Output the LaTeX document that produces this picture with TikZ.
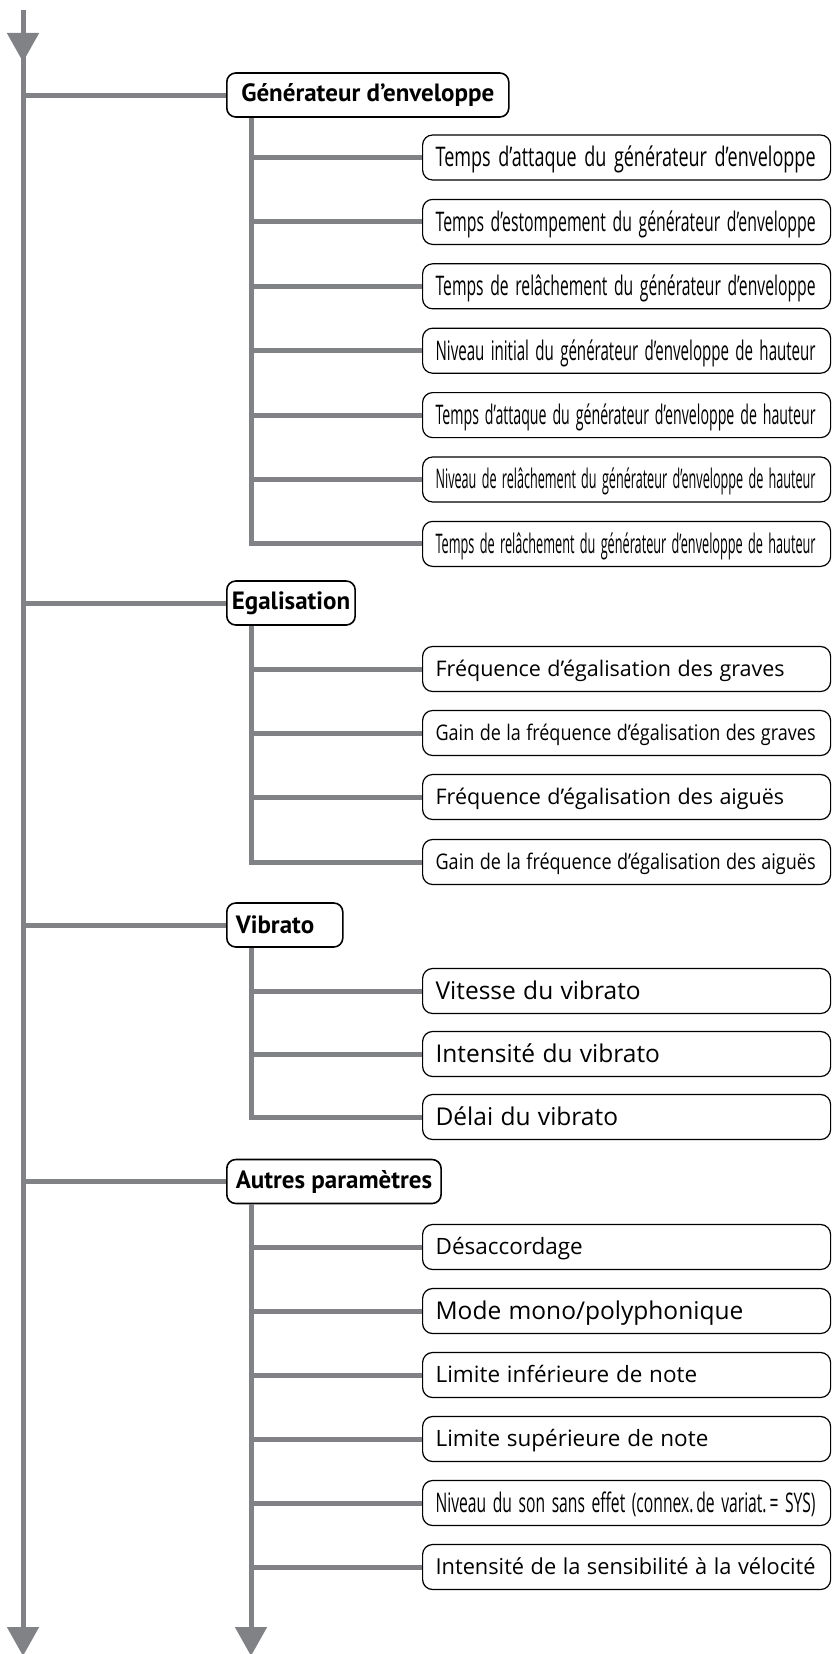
\documentclass[tikz,border=0pt]{standalone}
\usepackage{fontspec}
\setmainfont{PT Sans}
\newfontfamily\leaffont{Open Sans}
\usetikzlibrary{arrows.meta,calc}
\definecolor{linkgray}{HTML}{808285}

% Leaf labels: set at a given size, squeezed horizontally when too long
% for the box
\newsavebox\lblbox
\newlength\lblmax \setlength\lblmax{380pt}
\newlength\lblw
\newcommand\clbl[2][22.5]{%
  \sbox\lblbox{\leaffont\fontsize{#1}{#1}\selectfont\spaceskip=0.3em\relax\vphantom{Ég}#2}%
  \setlength\lblw{\wd\lblbox}%
  \ifdim\lblw>\lblmax
    \pgfmathsetmacro\lblsx{\lblmax/\lblw}%
    \scalebox{\lblsx}[1]{\usebox\lblbox}%
  \else\usebox\lblbox\fi}
% tall, strongly condensed labels
\newcommand\tlbl[1]{\clbl[27]{\spaceskip=0.42em\relax #1}}

\tikzset{
  x=1pt, y=-1pt,
  link/.style={draw=linkgray, line width=5pt},
  downtip/.style={-{Triangle[width=31pt,length=29pt]}},
  head/.style={draw, line width=1.6pt, rounded corners=9pt, fill=white,
    minimum height=44pt, inner xsep=9pt, inner ysep=0pt, anchor=west,
    font=\fontsize{25}{30}\selectfont\bfseries},
  leaf/.style={draw, line width=1.2pt, rounded corners=10pt, fill=white,
    minimum height=45pt, text width=382pt, inner xsep=13pt, inner ysep=0pt,
    align=left, anchor=west},
}

\begin{document}
\begin{tikzpicture}
\useasboundingbox (0,0) rectangle (836,1654);

% main trunk
\coordinate (L) at (23,10);
\coordinate (Lend) at (23,1656);

% ---------- Générateur d'enveloppe ----------
\node[head, minimum width=282pt] (h1) at (226,95) {Générateur d’enveloppe};
\node[leaf] (c11) at (422,157.5) {\tlbl{Temps d’attaque du générateur d’enveloppe}};
\node[leaf] (c12) at (422,221.9) {\tlbl{Temps d’estompement du générateur d’enveloppe}};
\node[leaf] (c13) at (422,286.3) {\tlbl{Temps de relâchement du générateur d’enveloppe}};
\node[leaf] (c14) at (422,350.7) {\tlbl{Niveau initial du générateur d’enveloppe de hauteur}};
\node[leaf] (c15) at (422,415.1) {\tlbl{Temps d’attaque du générateur d’enveloppe de hauteur}};
\node[leaf] (c16) at (422,479.5) {\tlbl{Niveau de relâchement du générateur d’enveloppe de hauteur}};
\node[leaf] (c17) at (422,543.9) {\tlbl{Temps de relâchement du générateur d’enveloppe de hauteur}};

% ---------- Egalisation ----------
\node[head, inner xsep=5pt] (h2) at (226,603) {Egalisation};
\node[leaf] (c21) at (422,669) {\clbl[21.5]{Fréquence d’égalisation des graves}};
\node[leaf] (c22) at (422,733) {\clbl[21.5]{Gain de la fréquence d’égalisation des graves}};
\node[leaf] (c23) at (422,797) {\clbl[21.5]{Fréquence d’égalisation des aiguës}};
\node[leaf] (c24) at (422,862) {\clbl[21.5]{Gain de la fréquence d’égalisation des aiguës}};

% ---------- Vibrato ----------
\node[head, minimum width=116pt, align=left, text width=98pt] (h3) at (226,925) {Vibrato};
\node[leaf] (c31) at (422,991) {\clbl[24.5]{Vitesse du vibrato}};
\node[leaf] (c32) at (422,1054) {\clbl[24.5]{Intensité du vibrato}};
\node[leaf] (c33) at (422,1117) {\clbl[24.5]{Délai du vibrato}};

% ---------- Autres paramètres ----------
\node[head] (h4) at (226,1181.5) {Autres paramètres};
\node[leaf] (c41) at (422,1247) {\clbl{Désaccordage}};
\node[leaf] (c42) at (422,1311) {\clbl[24.5]{Mode mono/polyphonique}};
\node[leaf] (c43) at (422,1375) {\clbl{Limite inférieure de note}};
\node[leaf] (c44) at (422,1439) {\clbl{Limite supérieure de note}};
\node[leaf] (c45) at (422,1503) {\tlbl{Niveau du son sans effet (connex. de variat. = SYS)}};
\node[leaf] (c46) at (422,1567) {\clbl[22]{Intensité de la sensibilité à la vélocité}};

% main trunk with its two arrowheads
\draw[link, downtip] (L) -- (Lend);
\draw[link, downtip] (L) -- (23,62);

% branches from the main trunk to each heading
\foreach \h in {h1,h2,h3,h4}
  \draw[link] (L |- \h.west) -- (\h.west);

% secondary trunks
\coordinate (s1) at ([xshift=25pt]h1.south west);
\coordinate (s2) at ([xshift=25pt]h2.south west);
\coordinate (s3) at ([xshift=25pt]h3.south west);
\coordinate (s4) at ([xshift=25pt]h4.south west);

\draw[link] (s1) |- (c17.west);
\foreach \c in {c11,c12,c13,c14,c15,c16}
  \draw[link] (s1 |- \c.west) -- (\c.west);

\draw[link] (s2) |- (c24.west);
\foreach \c in {c21,c22,c23}
  \draw[link] (s2 |- \c.west) -- (\c.west);

\draw[link] (s3) |- (c33.west);
\foreach \c in {c31,c32}
  \draw[link] (s3 |- \c.west) -- (\c.west);

\draw[link, downtip] (s4) -- (s4 |- Lend);
\foreach \c in {c41,c42,c43,c44,c45,c46}
  \draw[link] (s4 |- \c.west) -- (\c.west);
\end{tikzpicture}
\end{document}
